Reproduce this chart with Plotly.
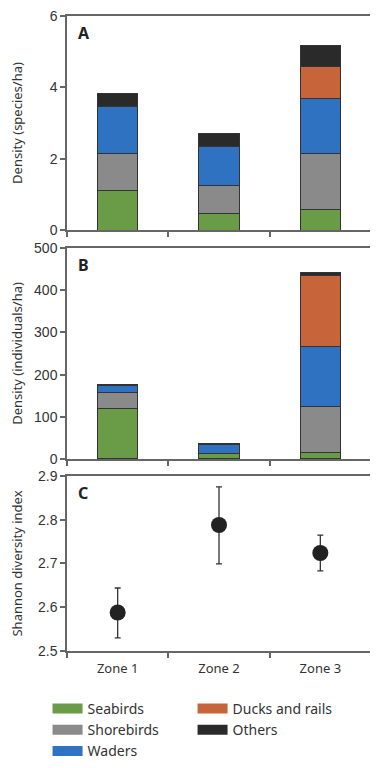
import plotly.graph_objects as go

zones = ["Zone 1", "Zone 2", "Zone 3"]
groups = ["Seabirds", "Shorebirds", "Waders", "Ducks and rails", "Others"]
colors = ["#6a9c48", "#8a8a8a", "#2f72c2", "#c8643a", "#2a2a2a"]

# Panel A: species density (species/ha), stacked segments
species_seabirds = [1.11, 0.46, 0.57]
species_shorebirds = [1.04, 0.78, 1.58]
species_waders = [1.31, 1.10, 1.55]
species_ducks = [None, None, 0.88]
species_others = [0.36, 0.36, 0.60]

# Panel B: individual density (individuals/ha), stacked segments
indiv_seabirds = [120, 12, 16]
indiv_shorebirds = [38.5, 2, 109]
indiv_waders = [15, 20, 142]
indiv_ducks = [None, None, 167]
indiv_others = [3.5, 2, 7]

# Panel C: Shannon diversity index with error bars
shannon_mean = [2.588, 2.788, 2.724]
shannon_upper = [2.644, 2.875, 2.765]
shannon_lower = [2.530, 2.699, 2.683]

species = [species_seabirds, species_shorebirds, species_waders, species_ducks, species_others]
indiv = [indiv_seabirds, indiv_shorebirds, indiv_waders, indiv_ducks, indiv_others]

FONT = "Noto Sans"
TICKFONT = "Liberation Sans"
TXT = "#333333"
AX = "#666666"

fig = go.Figure()
for i, g in enumerate(groups):
    fig.add_trace(go.Bar(
        x=zones, y=species[i], name=g, marker=dict(color=colors[i], line=dict(color="#333333", width=1)),
        width=0.4, xaxis="x", yaxis="y", legendgroup=g, showlegend=False))
for i, g in enumerate(groups):
    fig.add_trace(go.Bar(
        x=zones, y=indiv[i], name=g, marker=dict(color=colors[i], line=dict(color="#333333", width=1)),
        width=0.4, xaxis="x2", yaxis="y2", legendgroup=g, showlegend=False))

# legend-only entries (wide rectangular swatches like the original key)
for i, g in enumerate(groups):
    fig.add_trace(go.Scatter(
        x=[None], y=[None], mode="lines", name=g, line=dict(color=colors[i], width=13),
        xaxis="x", yaxis="y", legendgroup=g, showlegend=True,
        legend="legend" if i < 3 else "legend2", hoverinfo="skip"))

err_plus = [u - m for u, m in zip(shannon_upper, shannon_mean)]
err_minus = [m - l for l, m in zip(shannon_lower, shannon_mean)]
fig.add_trace(go.Scatter(
    x=zones, y=shannon_mean, mode="markers", xaxis="x3", yaxis="y3", showlegend=False,
    marker=dict(color="#222222", size=16),
    error_y=dict(type="data", array=err_plus, arrayminus=err_minus, color="#333333", thickness=1.3, width=3)))

def xax(anchor, labels):
    return dict(anchor=anchor, domain=[0, 1], type="category", range=[-0.5, 2.5],
                showline=True, mirror=True, linecolor=AX, linewidth=1.5,
                ticks="outside", tickson="boundaries", ticklen=5, tickcolor=AX, tickwidth=1.5,
                showticklabels=labels, showgrid=False, zeroline=False, automargin=False,
                ticklabelstandoff=5, ticklabeloverflow="allow",
                tickfont=dict(family=FONT, size=13, color=TXT))

def yax(anchor, dom, rng, dtick, title, standoff):
    return dict(anchor=anchor, domain=dom, range=rng, dtick=dtick,
                showline=True, mirror=True, linecolor=AX, linewidth=1.5,
                ticks="outside", ticklen=5, tickcolor=AX, tickwidth=1.5,
                showgrid=False, zeroline=False, automargin=False,
                ticklabeloverflow="allow",
                tickfont=dict(family=TICKFONT, size=14, color=TXT),
                title=dict(text=title, font=dict(family=FONT, size=13, color=TXT), standoff=standoff))

fig.update_layout(
    template="none",
    width=370, height=760,
    margin=dict(l=59, r=7, t=8, b=117, autoexpand=False),
    barmode="stack",
    paper_bgcolor="white", plot_bgcolor="white",
    font=dict(family=FONT, color=TXT),
    xaxis=xax("y", False),
    xaxis2=xax("y2", False),
    xaxis3=xax("y3", True),
    yaxis=yax("x", [0.6630, 1.0], [0, 6], 2, "Density (species/ha)", 29),
    yaxis2=yax("x2", [0.3024, 0.6346], [0, 500], 100, "Density (individuals/ha)", 13),
    yaxis3=yax("x3", [0.0, 0.2756], [2.5, 2.9], 0.1, "Shannon diversity index", 20),
    legend=dict(x=-0.064, y=-0.066, xanchor="left", yanchor="top", orientation="v",
                tracegroupgap=0, font=dict(family=FONT, size=14, color=TXT), bgcolor="rgba(0,0,0,0)"),
    legend2=dict(x=0.413, y=-0.066, xanchor="left", yanchor="top", orientation="v",
                 tracegroupgap=0, font=dict(family=FONT, size=14, color=TXT), bgcolor="rgba(0,0,0,0)"),
    showlegend=True,
)

for lab, xr, yr in [("A", "x domain", "y domain"), ("B", "x2 domain", "y2 domain"), ("C", "x3 domain", "y3 domain")]:
    fig.add_annotation(text="<b>%s</b>" % lab, xref=xr, yref=yr, x=0.03, y=0.979,
                       xanchor="left", yanchor="top", showarrow=False,
                       font=dict(family=FONT, size=16, color="#222222"))

fig.write_html("out.html")
